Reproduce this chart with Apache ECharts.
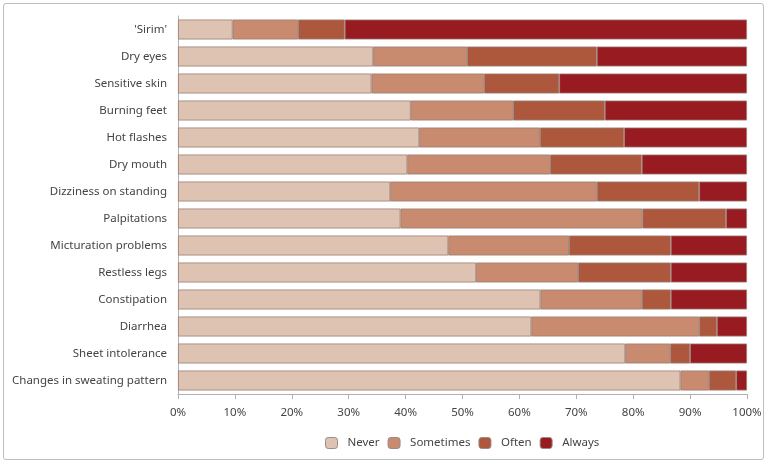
<!DOCTYPE html>
<html><head><meta charset="utf-8">
<script src="https://cdn.jsdelivr.net/npm/echarts@6/dist/echarts.min.js"></script>
<style>html,body{margin:0;padding:0;background:#fff}#c{width:768px;height:465px}
#frame{position:absolute;left:3px;top:3px;width:759px;height:455px;border:1px solid #bdbdbd;border-radius:3px;pointer-events:none}</style>
</head><body><div id="c"></div><div id="frame"></div>
<script>
const categories = ["'Sirim'","Dry eyes","Sensitive skin","Burning feet","Hot flashes","Dry mouth","Dizziness on standing","Palpitations","Micturation problems","Restless legs","Constipation","Diarrhea","Sheet intolerance","Changes in sweating pattern"];
const seriesNames = ["Never","Sometimes","Often","Always"];
const never =     [9.6, 34.3, 34.0, 40.9, 42.4, 40.3, 37.3, 39.1, 47.5, 52.4, 63.7, 62.1, 78.6, 88.3];
const sometimes = [11.5, 16.5, 19.8, 18.0, 21.2, 25.1, 36.3, 42.5, 21.2, 17.9, 17.8, 29.5, 7.9, 5.0];
const often =     [8.2, 22.8, 13.2, 16.1, 14.8, 16.1, 18.0, 14.7, 17.9, 16.3, 5.1, 3.1, 3.5, 4.8];
const always =    [70.7, 26.4, 33.0, 25.0, 21.6, 18.5, 8.4, 3.7, 13.4, 13.4, 13.4, 5.3, 10.0, 1.9];
const colors = ['#dfc3b2','#c88b70','#ad573d','#981b21'];
const data = [never, sometimes, often, always];
const font = 'Noto Sans';
const chart = echarts.init(document.getElementById('c'), null, {renderer:'canvas'});
chart.setOption({
  animation:false,
  textStyle:{fontFamily:font},
  grid:{left:178, right:21, top:16, bottom:71, containLabel:false},
  legend:{top:432, left:320, itemWidth:12, itemHeight:11, itemGap:8,
    textStyle:{fontFamily:font, fontSize:11.5, color:'#444', padding:[0,0,0,5]},
    data:seriesNames.map((n,i)=>({name:n, itemStyle:{color:colors[i], borderColor:'#9c8a84', borderWidth:1}}))},
  xAxis:{type:'value', min:0, max:100, interval:10,
    axisLine:{show:true, lineStyle:{color:'#b0b0b0'}},
    axisTick:{show:true, length:5, lineStyle:{color:'#b0b0b0'}},
    axisLabel:{formatter:'{value}%', fontFamily:font, fontSize:11.5, color:'#444', margin:13},
    splitLine:{show:false}},
  yAxis:{type:'category', data:categories, inverse:true,
    axisLine:{show:true, lineStyle:{color:'#b0b0b0'}},
    axisTick:{show:false},
    axisLabel:{fontFamily:font, fontSize:11.5, color:'#444', margin:11}},
  series:seriesNames.map((n,i)=>({name:n, type:'bar', stack:'all', data:data[i], barCategoryGap:'26%',
    itemStyle:{color:colors[i], borderColor:'#9a7d72', borderWidth:0.8}}))
});
</script></body></html>
